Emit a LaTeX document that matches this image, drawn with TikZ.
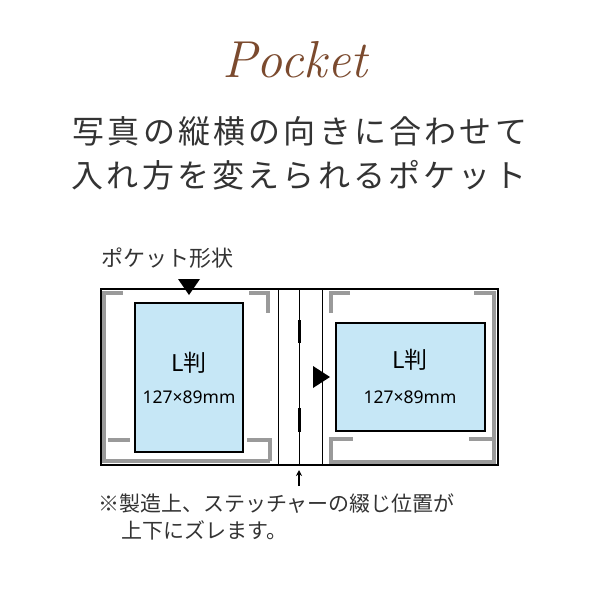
\documentclass[tikz,border=0pt]{standalone}
\usepackage{fontspec}
\usetikzlibrary{arrows.meta}
\newfontfamily\jp{Noto Sans CJK JP}
\newfontfamily\jpsp[LetterSpace=10]{Noto Sans CJK JP}
\newfontfamily\sans{Noto Sans}
\definecolor{txt}{HTML}{333333}
\definecolor{brownc}{HTML}{7B4A2E}
\definecolor{blueph}{HTML}{C6E7F6}
\definecolor{grayb}{HTML}{9A9A9A}
\tikzset{
  frame/.style={draw=black,line width=1.1pt},
  gline/.style={draw=grayb,line width=3.5pt},
  photo/.style={draw=black,line width=1.1pt,fill=blueph},
  stitch/.style={draw=black,line width=3pt},
  tri/.style={fill=black},
}
\begin{document}
\begin{tikzpicture}[x=1pt,y=-1pt]
\useasboundingbox (0,0) rectangle (600,600);
% title
\node[text=brownc,font=\fontsize{52}{52}\selectfont\itshape] (title) at (295,60) {Pocket};
\node[text=txt,font=\jpsp\fontsize{32}{32}\selectfont] (h1) at (300,131) {写真の縦横の向きに合わせて};
\node[text=txt,font=\jpsp\fontsize{32}{32}\selectfont] (h2) at (299,175) {入れ方を変えられるポケット};
% label
\node[text=txt,font=\jp\fontsize{22}{22}\selectfont,anchor=west,inner sep=0] (lbl) at (101,258) {ポケット形状};
% gray lines left page
\draw[gline] (104,291) -- (104,461) -- (270,461);
\draw[gline] (104,293) -- (123,293);
\draw[gline] (108,440) -- (130,440);
\draw[gline] (249,293) -- (268,293) -- (268,313);
\draw[gline] (247,440) -- (270,440) -- (270,461);
% gray lines right page
\draw[gline] (331,313) -- (331,293) -- (350,293);
\draw[gline] (474,293) -- (494,293) -- (494,462) -- (331,462) -- (331,439) -- (353,439);
\draw[gline] (469,439) -- (494,439);
% frame
\draw[frame] (101,289) rectangle (498,465);
\draw[black,line width=0.9pt] (278,289) -- (278,465);
\draw[black,line width=0.9pt] (299,289) -- (299,465);
\draw[black,line width=0.9pt] (322,289) -- (322,465);
\draw[stitch] (299,320) -- (299,343);
\draw[stitch] (299,408) -- (299,432);
% photos
\node[photo,minimum width=108pt,minimum height=149pt,inner sep=0] (p1) at (189,377.5) {};
\node[photo,minimum width=149pt,minimum height=108pt,inner sep=0] (p2) at (410.5,377) {};
\node[text=black,font=\jp\fontsize{23}{23}\selectfont] (l1) at (189,363) {L判};
\node[text=black,font=\sans\fontsize{17.5}{17.5}\selectfont] (s1) at (189,397) {127×89mm};
\node[text=black,font=\jp\fontsize{23}{23}\selectfont] (l2) at (410,360) {L判};
\node[text=black,font=\sans\fontsize{17.5}{17.5}\selectfont] (s2) at (410,397) {127×89mm};
% triangles
\fill[tri] (178,279) -- (200,279) -- (189,295) -- cycle;
\fill[tri] (313,366) -- (313,388) -- (330,377) -- cycle;
% arrow
\coordinate (ab) at (299,486);
\coordinate (at) at (299,470);
\draw[-{Stealth[length=6pt,width=6pt]},line width=1.5pt] (ab) -- (at);
% note
\node[text=txt,font=\jp\fontsize{21}{21}\selectfont,anchor=west,inner sep=0] (n1) at (98,504) {※製造上、ステッチャーの綴じ位置が};
\node[text=txt,font=\jp\fontsize{21}{21}\selectfont,anchor=west,inner sep=0] (n2) at (121,530) {上下にズレます。};
\end{tikzpicture}
\end{document}
